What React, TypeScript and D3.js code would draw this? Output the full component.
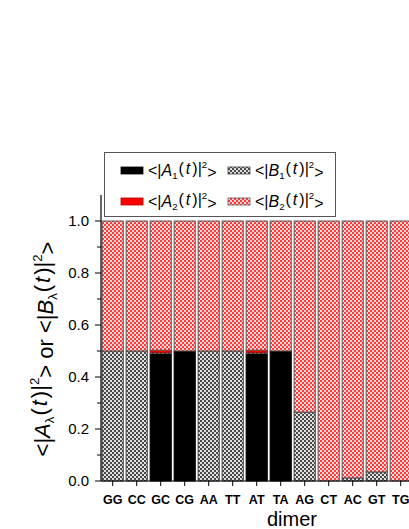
import React from "react";
import * as d3 from "d3";

// dimer categories and the four populations (stacked bottom -> top)
const dimers = ["GG", "CC", "GC", "CG", "AA", "TT", "AT", "TA", "AG", "CT", "AC", "GT", "TG"];
const a1 = [0, 0, 0.49, 0.5, 0, 0, 0.49, 0.5, 0, 0, 0, 0, 0];
const b1 = [0.5, 0.5, 0.005, 0, 0.5, 0.5, 0.005, 0, 0.265, 0, 0.012, 0.035, 0];
const a2 = [0, 0, 0.008, 0, 0, 0, 0.008, 0, 0, 0, 0, 0, 0];
const b2 = [0.5, 0.5, 0.497, 0.5, 0.5, 0.5, 0.497, 0.5, 0.735, 1, 0.988, 0.965, 1];
const yTicks = [0, 0.2, 0.4, 0.6, 0.8, 1.0];
const yMinor = [0.1, 0.3, 0.5, 0.7, 0.9];

const keys = ["a1", "b1", "a2", "b2"];
const fills: Record<string, string> = {
  a1: "#000",
  b1: "url(#grayCheck)",
  a2: "#ff0000",
  b2: "url(#redCheck)",
};
const strokes: Record<string, string> = { a1: "#000", b1: "#444", a2: "#b00000", b2: "#555" };

const FONT = "Arial, 'Liberation Sans', sans-serif";

// <|X_s(t)|^2>
function Term({ letter, sub }: { letter: string; sub: string }) {
  return (
    <>
      <tspan>{"<|"}</tspan>
      <tspan fontStyle="italic">{letter}</tspan>
      <tspan fontSize="0.6em" dy="0.3em">{sub}</tspan>
      <tspan dy="-0.3em" dx="1">{"("}</tspan>
      <tspan fontStyle="italic" dx="2">t</tspan>
      <tspan dx="2">{")|"}</tspan>
      <tspan fontSize="0.6em" dy="-0.6em">2</tspan>
      <tspan dy="0.6em">{">"}</tspan>
    </>
  );
}

export default function App() {
  const width = 409;
  const height = 529;

  const table = dimers.map((d, i) => ({ dimer: d, a1: a1[i], b1: b1[i], a2: a2[i], b2: b2[i] }));
  const series = d3.stack<any>().keys(keys)(table);

  const x = d3
    .scaleBand()
    .domain(dimers)
    .range([100.7, 100.7 + dimers.length * 24])
    .paddingInner(0.12)
    .paddingOuter(0.06);
  const y = d3.scaleLinear().domain([0, 1.1]).range([481, 195]);

  const legendItems = [
    { key: "a1", letter: "A", sub: "1", x: 121, y: 171 },
    { key: "b1", letter: "B", sub: "1", x: 228, y: 171 },
    { key: "a2", letter: "A", sub: "2", x: 121, y: 202 },
    { key: "b2", letter: "B", sub: "2", x: 228, y: 202 },
  ];

  return (
    <svg width={width} height={height} style={{ position: "absolute", left: 0, top: 0 }} fontFamily={FONT}>
      <defs>
        <pattern id="grayCheck" width={4} height={4} patternUnits="userSpaceOnUse">
          <rect width={4} height={4} fill="#e0e0e0" />
          <rect width={2} height={2} fill="#4a4a4a" />
          <rect x={2} y={2} width={2} height={2} fill="#4a4a4a" />
        </pattern>
        <pattern id="redCheck" width={4} height={4} patternUnits="userSpaceOnUse">
          <rect width={4} height={4} fill="#ffd6d6" />
          <rect width={2} height={2} fill="#ff3b3b" />
          <rect x={2} y={2} width={2} height={2} fill="#ff3b3b" />
        </pattern>
      </defs>

      {/* bars */}
      {series.map((s) => (
        <g key={s.key}>
          {s.map((d: any) => {
            const h = y(d[0]) - y(d[1]);
            if (h <= 0) return null;
            return (
              <rect
                key={d.data.dimer}
                x={x(d.data.dimer)}
                y={y(d[1])}
                width={x.bandwidth()}
                height={h}
                fill={fills[s.key]}
                stroke={strokes[s.key]}
                strokeWidth={h < 2 ? 0.5 : 1}
              />
            );
          })}
        </g>
      ))}

      {/* y axis */}
      <line x1={101} x2={101} y1={y(1.1)} y2={y(0)} stroke="#000" strokeWidth={1.2} />
      {yTicks.map((t) => (
        <g key={t}>
          <line x1={95} x2={101} y1={y(t)} y2={y(t)} stroke="#000" />
          <text x={89} y={y(t)} dy="0.36em" textAnchor="end" fontSize={15}>
            {t.toFixed(1)}
          </text>
        </g>
      ))}
      {yMinor.map((t) => (
        <line key={t} x1={97} x2={101} y1={y(t)} y2={y(t)} stroke="#000" />
      ))}

      {/* x axis */}
      <line x1={101} x2={width + 5} y1={y(0)} y2={y(0)} stroke="#000" strokeWidth={1.2} />
      {dimers.map((d) => (
        <g key={d}>
          <line
            x1={x(d)! + x.bandwidth() / 2}
            x2={x(d)! + x.bandwidth() / 2}
            y1={y(0)}
            y2={y(0) + 5}
            stroke="#000"
          />
          <text x={x(d)! + x.bandwidth() / 2} y={504} textAnchor="middle" fontSize={12.5} fontWeight="bold">
            {d}
          </text>
        </g>
      ))}
      <text x={292} y={526} textAnchor="middle" fontSize={20}>
        dimer
      </text>

      {/* y title */}
      <text transform="translate(50,349) rotate(-90)" textAnchor="middle" fontSize={22}>
        <Term letter="A" sub="λ" />
        <tspan>{" or "}</tspan>
        <Term letter="B" sub="λ" />
      </text>

      {/* legend */}
      <rect x={104.5} y={152.5} width={231} height={64} fill="#fff" stroke="#555" />
      {legendItems.map((it) => (
        <g key={it.key}>
          <rect
            x={it.x}
            y={it.y - 4}
            width={22}
            height={7}
            fill={fills[it.key]}
            stroke={strokes[it.key]}
            strokeWidth={0.8}
          />
          <text x={it.x + 27} y={it.y + 5} fontSize={16}>
            <Term letter={it.letter} sub={it.sub} />
          </text>
        </g>
      ))}
    </svg>
  );
}
